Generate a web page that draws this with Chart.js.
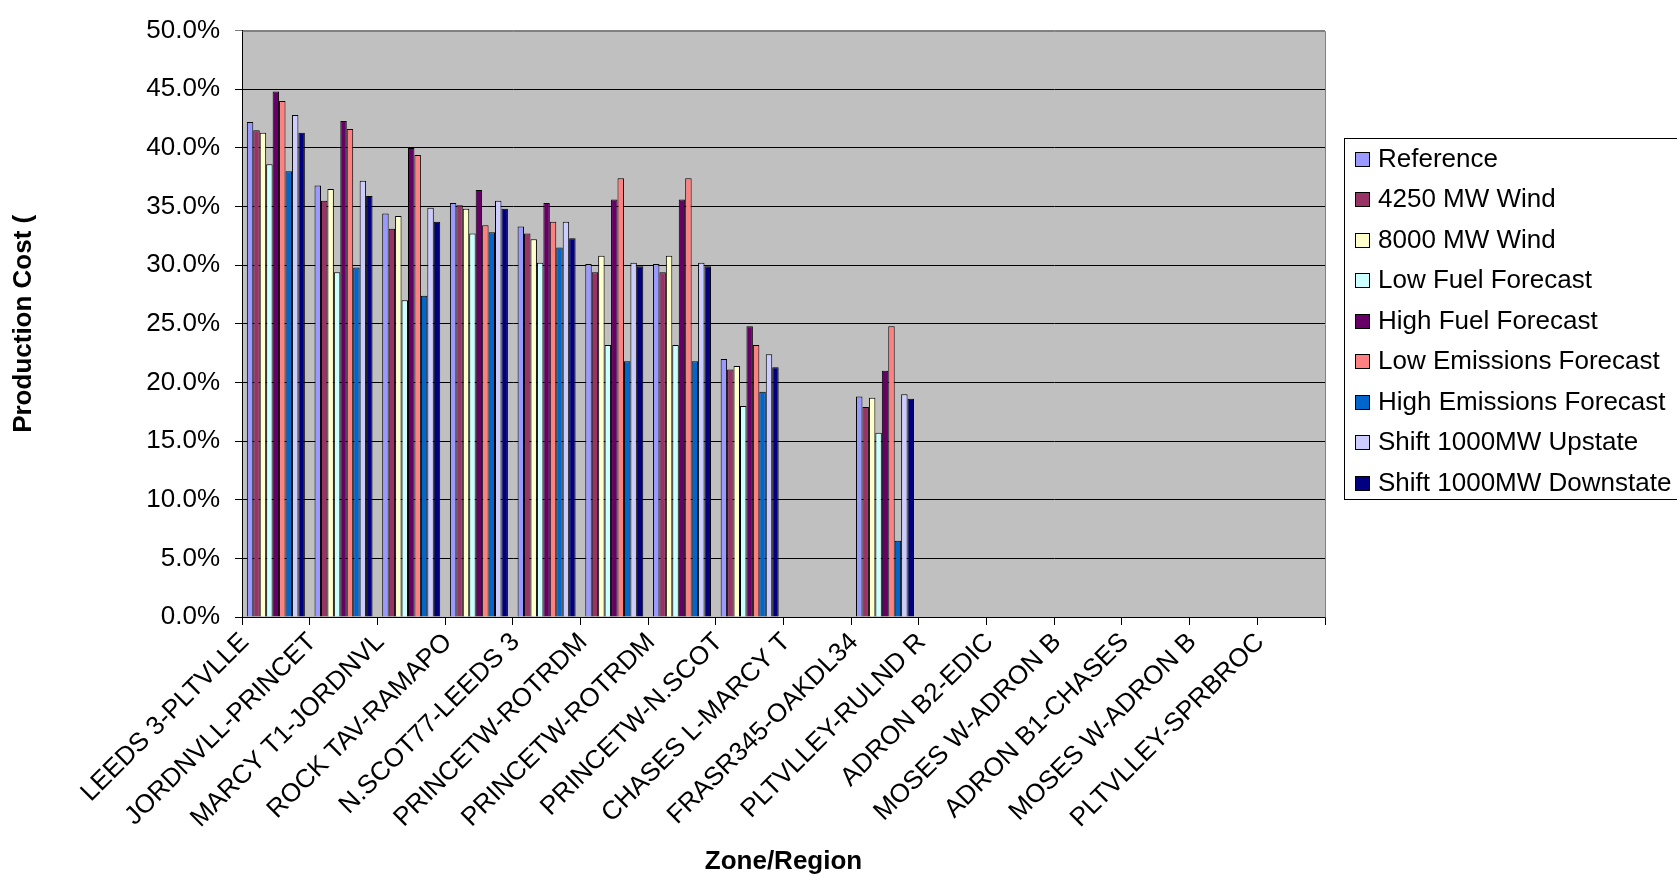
<!DOCTYPE html>
<html>
<head>
<meta charset="utf-8">
<script src="https://cdn.jsdelivr.net/npm/chart.js@4/dist/chart.umd.min.js"></script>
<style>
html,body{margin:0;padding:0;background:#fff;}
#wrap{width:1677px;height:877px;position:relative;}
</style>
</head>
<body>
<div id="wrap"><canvas id="c" width="1677" height="877"></canvas></div>
<script>
const categories = ["LEEDS 3-PLTVLLE","JORDNVLL-PRINCET","MARCY T1-JORDNVL","ROCK TAV-RAMAPO","N.SCOT77-LEEDS 3","PRINCETW-ROTRDM","PRINCETW-ROTRDM","PRINCETW-N.SCOT","CHASES L-MARCY T","FRASR345-OAKDL34","PLTVLLEY-RULND R","ADRON B2-EDIC","MOSES W-ADRON B","ADRON B1-CHASES","MOSES W-ADRON B","PLTVLLEY-SPRBROC"];
const seriesNames = ["Reference","4250 MW Wind","8000 MW Wind","Low Fuel Forecast","High Fuel Forecast","Low Emissions Forecast","High Emissions Forecast","Shift 1000MW Upstate","Shift 1000MW Downstate"];
const reference  = [42.2,36.8,34.4,35.3,33.3,30.1,30.1,22.0,null,18.8,null,null,null,null,null,null];
const wind4250   = [41.5,35.5,33.1,35.1,32.7,29.4,29.4,21.1,null,17.9,null,null,null,null,null,null];
const wind8000   = [41.3,36.5,34.2,34.8,32.2,30.8,30.8,21.4,null,18.7,null,null,null,null,null,null];
const lowFuel    = [38.6,29.4,27.0,32.7,30.2,23.2,23.2,18.0,null,15.7,null,null,null,null,null,null];
const highFuel   = [44.8,42.3,40.0,36.4,35.3,35.6,35.6,24.8,null,21.0,null,null,null,null,null,null];
const lowEmis    = [44.0,41.6,39.4,33.4,33.7,37.4,37.4,23.2,null,24.8,null,null,null,null,null,null];
const highEmis   = [38.0,29.8,27.4,32.8,31.5,21.8,21.8,19.2,null,6.5,null,null,null,null,null,null];
const upstate    = [42.8,37.2,34.9,35.5,33.7,30.2,30.2,22.4,null,19.0,null,null,null,null,null,null];
const downstate  = [41.3,35.9,33.7,34.8,32.3,29.9,29.9,21.3,null,18.6,null,null,null,null,null,null];
const yTicks = [0,5,10,15,20,25,30,35,40,45,50];
const colors = ["#9999FF","#993366","#FFFFCC","#CCFFFF","#660066","#FF8080","#0066CC","#CCCCFF","#000080"];

const allSeries = [reference,wind4250,wind8000,lowFuel,highFuel,lowEmis,highEmis,upstate,downstate];
const FONT = "'Liberation Sans', Arial, sans-serif";
Chart.defaults.font.family = FONT;
Chart.defaults.color = '#000';

const bgPlugin = {
  id: 'bg',
  beforeDraw(chart){
    const {ctx, chartArea:a} = chart;
    ctx.save();
    ctx.fillStyle = '#C0C0C0';
    ctx.fillRect(a.left, a.top, a.right-a.left, a.bottom-a.top);
    ctx.restore();
  },
  afterDraw(chart){
    const {ctx, chartArea:a} = chart;
    ctx.save();
    ctx.strokeStyle = '#808080';
    ctx.lineWidth = 1;
    ctx.beginPath();
    ctx.moveTo(Math.round(a.left)+0.5, Math.round(a.top)+0.5);
    ctx.lineTo(Math.round(a.right)+0.5, Math.round(a.top)+0.5);
    ctx.lineTo(Math.round(a.right)+0.5, Math.round(a.bottom)+0.5);
    ctx.stroke();
    // legend
    const lx = 1344, ly = 138, lw = 400, lh = 361;
    ctx.strokeStyle = '#000';
    ctx.strokeRect(lx+0.5, ly+0.5, lw, lh);
    ctx.font = "26px " + FONT;
    ctx.textBaseline = 'middle';
    ctx.textAlign = 'left';
    chart.data.datasets.forEach((ds,i)=>{
      const cy = 158.5 + i*40.5;
      ctx.fillStyle = ds.backgroundColor;
      ctx.fillRect(1355, Math.round(cy-7), 15, 15);
      ctx.strokeStyle = '#000';
      ctx.strokeRect(1355.5, Math.round(cy-7)+0.5, 14, 14);
      ctx.fillStyle = '#000';
      ctx.fillText(ds.label, 1378, cy+1);
    });
    ctx.restore();
  }
};

new Chart(document.getElementById('c'), {
  type: 'bar',
  data: {
    labels: categories,
    datasets: seriesNames.map((n,i)=>({
      label: n,
      data: allSeries[i],
      backgroundColor: colors[i],
      borderColor: '#000',
      borderWidth: 1,
      categoryPercentage: 0.857,
      barPercentage: 1.0
    }))
  },
  options: {
    responsive: false,
    animation: false,
    devicePixelRatio: 1,
    layout: { padding: { left: 0, top: 22, right: 352, bottom: 0 } },
    plugins: { legend: { display: false }, tooltip: { enabled: false } },
    scales: {
      x: {
        offset: true,
        grid: { offset: true, drawOnChartArea: false, drawTicks: true, tickLength: 8, color: '#000' },
        border: { color: '#000' },
        ticks: { autoSkip: false, maxRotation: 45, minRotation: 45, padding: 2, labelOffset: -31, font: { size: 26 } },
        title: { display: true, text: 'Zone/Region', font: { size: 26, weight: 'bold' }, padding: { top: 0, bottom: 0 } },
        afterFit(scale){ scale.height = 260; }
      },
      y: {
        min: 0, max: 50,
        afterBuildTicks(scale){ scale.ticks = yTicks.map(v=>({value:v})); },
        grid: { color: (c)=> c.tick && c.tick.value === 50 ? '#808080' : '#000', tickLength: 7, drawTicks: true },
        border: { color: '#000' },
        ticks: { padding: 15, font: { size: 26 }, callback: (v)=> Number(v).toFixed(1) + '%' },
        title: { display: true, text: 'Production Cost (', font: { size: 26, weight: 'bold' }, padding: { top: 8, bottom: 0 } },
        afterFit(scale){ scale.width = 242; }
      }
    }
  },
  plugins: [bgPlugin]
});
</script>
</body>
</html>
